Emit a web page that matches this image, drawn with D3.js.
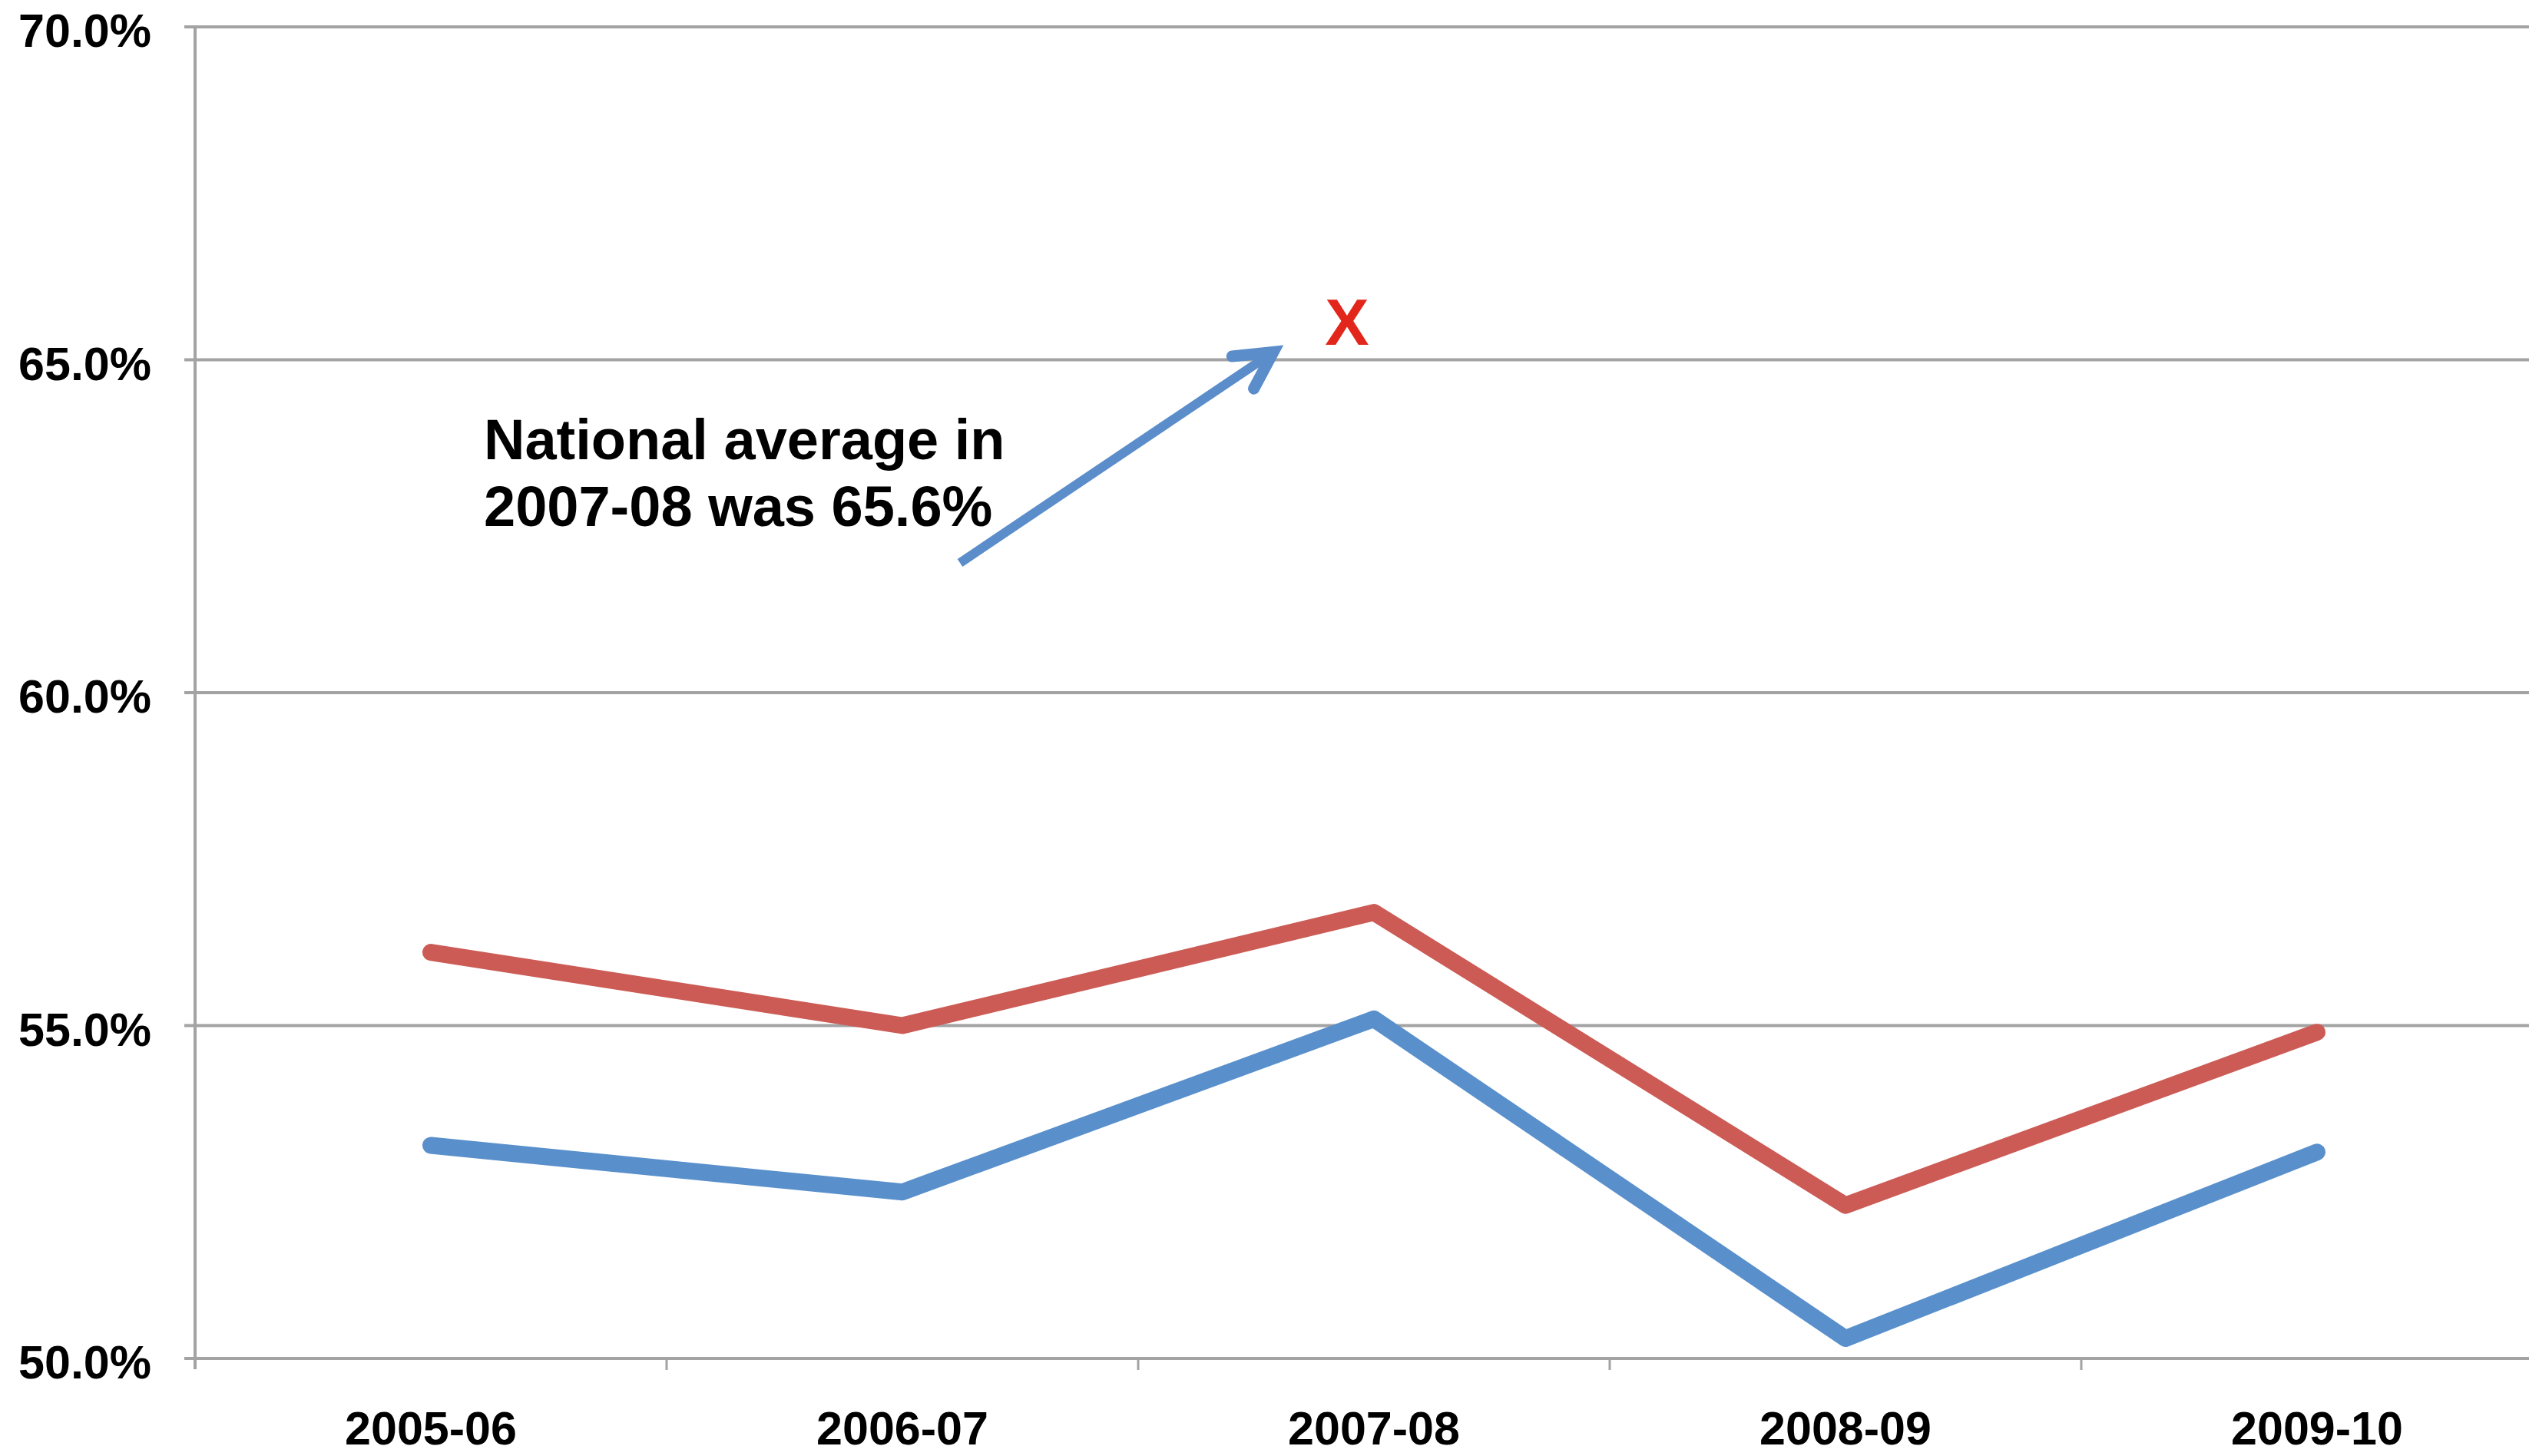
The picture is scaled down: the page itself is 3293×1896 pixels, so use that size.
<!DOCTYPE html>
<html>
<head>
<meta charset="utf-8">
<script src="https://cdn.jsdelivr.net/npm/d3@7"></script>
<style>
  html, body { margin: 0; padding: 0; background: #ffffff; }
  svg { display: block; }
</style>
</head>
<body>
<script>
// ---- data ----
const categories = ["2005-06", "2006-07", "2007-08", "2008-09", "2009-10"];
const redSeries  = [56.1, 55.0, 56.7, 52.3, 54.9];
const blueSeries = [53.2, 52.5, 55.1, 50.3, 53.1];
const yTicks = [50, 55, 60, 65, 70];
const nationalAverageYear = "2007-08";
const nationalAverage = 65.6;
const annotationLines = ["National average in", "2007-08 was 65.6%"];

// ---- layout ----
const W = 3293, H = 1896;
const x0 = 254, bandW = 614;
const yTop = 35, yBottom = 1769;
const FONT = "'Liberation Sans', Arial, Helvetica, sans-serif";

const svg = d3.select("body").append("svg")
  .attr("width", W).attr("height", H);
svg.append("rect").attr("width", W).attr("height", H).attr("fill", "#fff");

const x = d3.scaleBand().domain(categories).range([x0, x0 + bandW * categories.length]).padding(0);
const y = d3.scaleLinear().domain([50, 70]).range([yBottom, yTop]);

const gridColor = "#a3a3a3";

// horizontal gridlines (incl. baseline), with small outward tick on the left
svg.append("g").selectAll("line").data(yTicks).join("line")
  .attr("x1", x0 - 14).attr("x2", x.range()[1])
  .attr("y1", d => y(d)).attr("y2", d => y(d))
  .attr("stroke", gridColor).attr("stroke-width", 4);

// left axis line
svg.append("line")
  .attr("x1", x0).attr("x2", x0)
  .attr("y1", y(70) - 2).attr("y2", y(50) + 14)
  .attr("stroke", gridColor).attr("stroke-width", 4);

// x tick marks at band boundaries
svg.append("g").selectAll("line").data(categories.slice(1)).join("line")
  .attr("x1", d => x(d)).attr("x2", d => x(d))
  .attr("y1", y(50)).attr("y2", y(50) + 15)
  .attr("stroke", gridColor).attr("stroke-width", 3);

// y labels
svg.append("g").selectAll("text").data(yTicks).join("text")
  .attr("x", 197).attr("y", d => y(d) + 26)
  .attr("text-anchor", "end")
  .attr("font-family", FONT).attr("font-weight", "bold").attr("font-size", 61)
  .attr("fill", "#000")
  .text(d => d3.format(".1f")(d) + "%");

// x labels
svg.append("g").selectAll("text").data(categories).join("text")
  .attr("x", d => x(d) + x.bandwidth() / 2).attr("y", 1881)
  .attr("text-anchor", "middle")
  .attr("font-family", FONT).attr("font-weight", "bold").attr("font-size", 61)
  .attr("fill", "#000")
  .text(d => d);

// lines
const line = d3.line()
  .x((d, i) => x(categories[i]) + x.bandwidth() / 2)
  .y(d => y(d));

svg.append("path").datum(redSeries)
  .attr("d", line).attr("fill", "none")
  .attr("stroke", "#cc5b55").attr("stroke-width", 22)
  .attr("stroke-linejoin", "round").attr("stroke-linecap", "round");

svg.append("path").datum(blueSeries)
  .attr("d", line).attr("fill", "none")
  .attr("stroke", "#5990cc").attr("stroke-width", 22)
  .attr("stroke-linejoin", "round").attr("stroke-linecap", "round");

// national average marker (red X)
const markX = x(nationalAverageYear) + x.bandwidth() / 2 - 35;
const markY = y(nationalAverage);
svg.append("text")
  .attr("x", markX).attr("y", markY + 33)
  .attr("text-anchor", "middle")
  .attr("font-family", FONT).attr("font-weight", "bold").attr("font-size", 86)
  .attr("fill", "#e3261b")
  .text("X");

// annotation text
const ann = svg.append("text")
  .attr("font-family", FONT).attr("font-weight", "bold").attr("font-size", 74)
  .attr("fill", "#000");
annotationLines.forEach((t, i) => {
  ann.append("tspan").attr("x", 630).attr("y", 598 + i * 87).text(t);
});

// arrow from text to marker
const tail = [1250, 733];
const tip = [markX - 96, markY + 42];
const ang = Math.atan2(tail[1] - tip[1], tail[0] - tip[0]);
const headLen = 54, spread = 28 * Math.PI / 180;
const b1 = [tip[0] + headLen * Math.cos(ang + spread), tip[1] + headLen * Math.sin(ang + spread)];
const b2 = [tip[0] + headLen * Math.cos(ang - spread), tip[1] + headLen * Math.sin(ang - spread)];
const shaftEnd = [tip[0] + 8 * Math.cos(ang), tip[1] + 8 * Math.sin(ang)];

svg.append("line")
  .attr("x1", tail[0]).attr("y1", tail[1])
  .attr("x2", shaftEnd[0]).attr("y2", shaftEnd[1])
  .attr("stroke", "#5a8dca").attr("stroke-width", 12);
svg.append("path")
  .attr("d", d3.line()([b1, tip, b2]))
  .attr("fill", "none").attr("stroke", "#5a8dca").attr("stroke-width", 15)
  .attr("stroke-linejoin", "miter").attr("stroke-miterlimit", 10)
  .attr("stroke-linecap", "round");
</script>
</body>
</html>
